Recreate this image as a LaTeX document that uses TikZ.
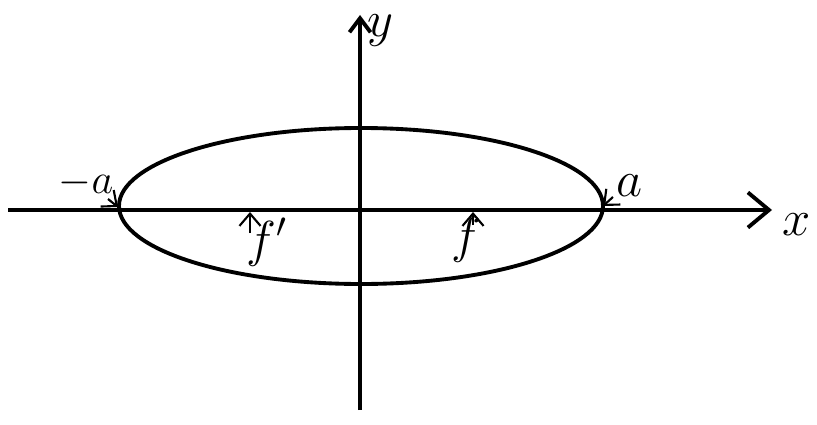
\documentclass[tikz,border=0pt]{standalone}
\usetikzlibrary{arrows.meta}
\begin{document}
\begin{tikzpicture}[
  axis/.style={line width=1.1pt},
  curve/.style={line width=1.1pt},
  tick/.style={line width=0.6pt,-{Straight Barb[length=3.5pt,width=6pt]}},
  lbl/.style={font=\Large},
  slbl/.style={font=\large}
]
\useasboundingbox (0,0) rectangle (8.17,4.24);
% axes
\coordinate (xs) at (0.08,2.14);
\coordinate (xe) at (7.72,2.14);
\coordinate (ys) at (3.60,0.14);
\coordinate (ye) at (3.60,4.09);
\draw[axis,-{Straight Barb[length=6pt,width=10pt,line width=1.1pt]}] (xs) -- (xe);
\draw[axis,-{Straight Barb[length=4pt,width=6pt,line width=1.1pt]}] (ys) -- (ye);
% ellipse
\draw[curve] (3.61,2.18) ellipse [x radius=2.42, y radius=0.78];
% labels
\node[slbl] (ma) at (0.86,2.41) {$-a$};
\node[lbl] (pa) at (6.29,2.38) {$a$};
\node[lbl] (xl) at (7.97,1.99) {$x$};
\node[lbl] (yl) at (3.80,3.93) {$y$};
\node[lbl] (fp) at (2.67,1.82) {$f'$};
\node[lbl] (fr) at (4.66,1.84) {$f$};
% small arrows
\coordinate (ma0) at (1.08,2.25);
\coordinate (mpt) at (1.18,2.17);
\coordinate (pa0) at (6.13,2.27);
\coordinate (ppt) at (6.03,2.18);
\coordinate (f1b) at (2.50,1.91);
\coordinate (f1t) at (2.50,2.12);
\coordinate (f2b) at (4.73,1.99);
\coordinate (f2t) at (4.73,2.12);
\draw[tick] (ma0) -- (mpt);
\draw[tick] (pa0) -- (ppt);
\draw[tick] (f1b) -- (f1t);
\draw[tick] (f2b) -- (f2t);
\end{tikzpicture}
\end{document}
